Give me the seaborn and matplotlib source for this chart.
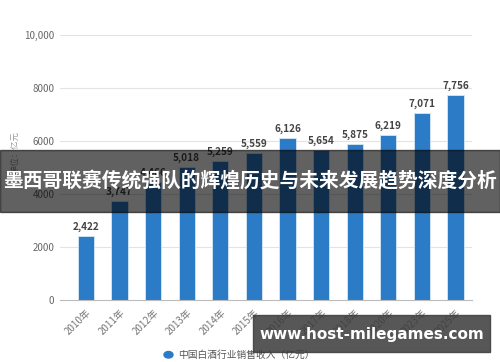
import matplotlib
matplotlib.use("Agg")
import matplotlib.pyplot as plt
import seaborn as sns
import pandas as pd
from matplotlib.patches import Rectangle

years = ["2010年", "2011年", "2012年", "2013年", "2014年", "2015年",
         "2016年", "2017年", "2018年", "2020年", "2023年", "2025年"]
values = [2422, 3747, 4466, 5018, 5259, 5559, 6126, 5654, 5875, 6219, 7071, 7756]
yticks = [0, 2000, 4000, 6000, 8000, 10000]
ytick_labels = ["0", "2000", "4000", "6000", "8000", "10,000"]
legend_label = "中国白酒行业销售收入（亿元）"
banner_text = "墨西哥联赛传统强队的辉煌历史与未来发展趋势深度分析"
url_text = "www.host-milegames.com"

sns.set_theme(style="white")
plt.rcParams['font.family'] = ['Noto Sans CJK SC', 'DejaVu Sans']

df = pd.DataFrame({"year": years, "value": values})

fig = plt.figure(figsize=(5, 3.62), dpi=100)
ax = fig.add_axes([0.12, 0.171, 0.824, 0.732])

blue = "#2b7bc6"
sns.barplot(data=df, x="year", y="value", color=blue, width=0.48,
            edgecolor="#d6e8f5", linewidth=0.6, ax=ax, saturation=1)

for i, v in enumerate(values):
    ax.text(i, v + 150, f"{v:,}", ha="center", va="bottom",
            fontsize=7.2, color="#444444", fontweight="semibold")

ax.set_ylim(0, 10000)
ax.set_xlim(-0.77, 11.49)
ax.set_yticks(yticks)
ax.set_yticklabels(ytick_labels, fontsize=7, color="#666666")
ax.set_xticks(range(len(years)))
ax.set_xticklabels(years, rotation=45, ha="right", rotation_mode="anchor",
                   fontsize=7, color="#777777")
ax.tick_params(axis="x", length=3, color="#bbbbbb", pad=2)
ax.tick_params(axis="y", length=0, pad=4)
ax.set_xlabel("")
ax.set_ylabel("")
for y in yticks[1:]:
    ax.axhline(y, color="#e3e3e3", lw=0.8, zorder=0)
for s in ["top", "right", "left"]:
    ax.spines[s].set_visible(False)
ax.spines["bottom"].set_color("#bbbbbb")
ax.spines["bottom"].set_linewidth(0.8)
ax.set_axisbelow(True)

# y-axis unit label (faint)
fig.text(0.03, 0.58, "单位：亿元", rotation=90, fontsize=6, color="#999999",
         ha="center", va="center")

# legend
fig.patches.append(matplotlib.patches.Circle((0.337, 0.020), 0.009,
                   transform=fig.transFigure, color=blue, zorder=5))
fig.text(0.357, 0.020, legend_label, fontsize=7, color="#555555",
         va="center", ha="left")

# dark banner overlay
fig.patches.append(Rectangle((0, 1 - 212 / 362), 1, 62 / 362,
                             transform=fig.transFigure, color="black",
                             alpha=0.62, zorder=10))
fig.text(0.5, 1 - 181 / 362, banner_text, fontsize=14.2, color="white",
         fontweight="bold", ha="center", va="center", zorder=11)

# url box
fig.patches.append(Rectangle((253 / 500, 1 - 352 / 362), 237 / 500, 37 / 362,
                             transform=fig.transFigure, color="#3a3a3a",
                             alpha=0.85, zorder=10))
fig.text(371.5 / 500, 1 - 334 / 362, url_text, fontsize=11, color="white",
         fontweight="bold", ha="center", va="center", zorder=11,
         family="DejaVu Sans")

fig.savefig("out.png", dpi=100)
